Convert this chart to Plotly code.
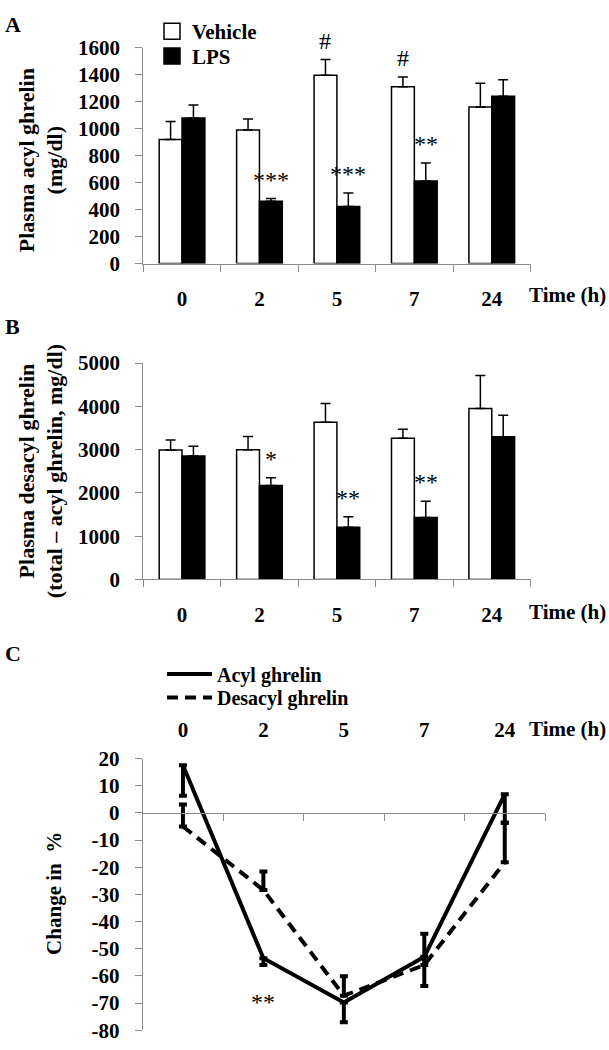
import plotly.graph_objects as go

# ---------------- data ----------------
times = ['0', '2', '5', '7', '24']

acyl_vehicle = [920, 990, 1397, 1312, 1162]
acyl_vehicle_sem = [133, 83, 116, 71, 175]
acyl_lps = [1080, 462, 424, 613, 1242]
acyl_lps_sem = [97, 20, 99, 133, 121]

desacyl_vehicle = [2990, 2997, 3630, 3261, 3953]
desacyl_vehicle_sem = [233, 309, 436, 210, 761]
desacyl_lps = [2854, 2169, 1205, 1431, 3298]
desacyl_lps_sem = [226, 180, 241, 376, 497]

change_acyl = [17.5, -53.5, -69.8, -53.0, 6.9]
change_acyl_err = [11.2, 2.5, 7.3, 10.7, 10.5]
change_desacyl = [-5.0, -28.4, -67.3, -56.0, -18.2]
change_desacyl_err = [8.1, 6.8, 7.2, 11.5, 14.6]

acyl_ticks = [0, 200, 400, 600, 800, 1000, 1200, 1400, 1600]
desacyl_ticks = [0, 1000, 2000, 3000, 4000, 5000]
change_ticks = [-80, -70, -60, -50, -40, -30, -20, -10, 0, 10, 20]
change_ticktext = ['-80', '-70', '-60', '-50', '-40', '-30', '-20', '-10', '0', '10', '20']

# significance marks: (time, series, text)
sig_a = [('5', 'vehicle', '#'), ('7', 'vehicle', '#'),
         ('2', 'lps', '***'), ('5', 'lps', '***'), ('7', 'lps', '**')]
sig_b = [('2', 'lps', '*'), ('5', 'lps', '**'), ('7', 'lps', '**')]
sig_c = [('2', 'acyl', '**')]

# ---------------- layout helpers ----------------
W, H = 609, 1050
def px_x(x):
    return x / W
def px_y(y):
    return 1 - y / H

FONT = 'Liberation Serif'
GRAY = '#8c8c8c'
BARGAP = 0.41
TICK_FONT = dict(family=FONT, size=21, color='black', weight='bold')

fig = go.Figure()
zeros = [0] * len(times)


def add_bars(xa, ya, veh, veh_err, lps, lps_err):
    fig.add_trace(go.Bar(
        x=times, y=veh, xaxis=xa, yaxis=ya, name='Vehicle', showlegend=False,
        marker=dict(color='white', line=dict(color='black', width=1.5)),
        error_y=dict(type='data', symmetric=False, array=veh_err, arrayminus=zeros,
                     color='black', thickness=1.5, width=5)))
    fig.add_trace(go.Bar(
        x=times, y=lps, xaxis=xa, yaxis=ya, name='LPS', showlegend=False,
        marker=dict(color='black', line=dict(color='black', width=1.5)),
        error_y=dict(type='data', symmetric=False, array=lps_err, arrayminus=zeros,
                     color='black', thickness=1.5, width=5)))


add_bars('x', 'y', acyl_vehicle, acyl_vehicle_sem, acyl_lps, acyl_lps_sem)
add_bars('x2', 'y2', desacyl_vehicle, desacyl_vehicle_sem, desacyl_lps, desacyl_lps_sem)

# legend entries for panel A (one legend per entry for exact placement)
fig.add_trace(go.Scatter(x=[None], y=[None], xaxis='x', yaxis='y', mode='markers', name='Vehicle',
                         marker=dict(symbol='square', size=16, color='white',
                                     line=dict(color='black', width=1.5)), legend='legend'))
fig.add_trace(go.Scatter(x=[None], y=[None], xaxis='x', yaxis='y', mode='markers', name='LPS',
                         marker=dict(symbol='square', size=16, color='black',
                                     line=dict(color='black', width=1.5)), legend='legend3'))

# panel C lines
fig.add_trace(go.Scatter(
    x=times, y=change_acyl, xaxis='x3', yaxis='y3', mode='lines', name='Acyl ghrelin',
    line=dict(color='black', width=4), legend='legend2',
    error_y=dict(type='data', symmetric=False, array=zeros, arrayminus=change_acyl_err,
                 color='black', thickness=4, width=4)))
fig.add_trace(go.Scatter(
    x=times, y=change_desacyl, xaxis='x3', yaxis='y3', mode='lines', name='Desacyl ghrelin',
    line=dict(color='black', width=4, dash='11px,7px'), legend='legend4',
    error_y=dict(type='data', symmetric=False, array=change_desacyl_err, arrayminus=zeros,
                 color='black', thickness=4, width=4)))
# helper trace that registers the zero-line axis of panel C
fig.add_trace(go.Scatter(x=[None], y=[None], xaxis='x4', yaxis='y3', showlegend=False,
                         hoverinfo='skip'))

# ---------------- axes ----------------
xa_bar = dict(type='category', range=[-0.5, len(times) - 0.5], showline=True, linecolor=GRAY,
              linewidth=1, ticks='outside', tickson='boundaries', ticklen=7, tickcolor=GRAY,
              tickfont=TICK_FONT, ticklabelstandoff=16, showgrid=False, zeroline=False)
ya_common = dict(showline=True, linecolor=GRAY, linewidth=1, ticks='outside', ticklen=7,
                 tickcolor=GRAY, tickfont=TICK_FONT, ticklabelstandoff=11,
                 showgrid=False, zeroline=False)

c_dom = [px_y(1042), px_y(764)]
c_range = [-80, 20]
zero_pos = c_dom[0] + (0 - c_range[0]) / (c_range[1] - c_range[0]) * (c_dom[1] - c_dom[0])


def legend_box(x_px, top_px, size):
    return dict(x=px_x(x_px), y=px_y(top_px), xanchor='left', yanchor='top',
                font=dict(family=FONT, size=size, color='black', weight='bold'),
                bgcolor='rgba(0,0,0,0)', itemsizing='trace', tracegroupgap=0)


fig.update_layout(
    width=W, height=H, margin=dict(l=0, r=0, t=0, b=0),
    paper_bgcolor='white', plot_bgcolor='white',
    font=dict(family=FONT, color='black'),
    barmode='group', bargap=BARGAP, bargroupgap=0,
    xaxis=dict(domain=[px_x(143.3), px_x(530.5)], anchor='y', **xa_bar),
    yaxis=dict(domain=[px_y(257.5), px_y(36.7)], anchor='x', range=[0, 1600],
               tickvals=acyl_ticks, **ya_common),
    xaxis2=dict(domain=[px_x(143.3), px_x(530.5)], anchor='y2', **xa_bar),
    yaxis2=dict(domain=[px_y(580.7), px_y(359.3)], anchor='x2', range=[0, 5000],
                tickvals=desacyl_ticks, **ya_common),
    xaxis3=dict(domain=[px_x(142.7), px_x(545)], anchor='free', position=px_y(746),
                side='top', type='category', range=[-0.5, len(times) - 0.5],
                showline=False, ticks='', tickfont=TICK_FONT,
                showgrid=False, zeroline=False),
    xaxis4=dict(overlaying='x3', anchor='free', position=zero_pos, type='linear',
                range=[-0.5, len(times) - 0.5],
                tickvals=[i - 0.5 for i in range(len(times) + 1)],
                showticklabels=False, showline=True, linecolor=GRAY, linewidth=1,
                ticks='outside', ticklen=7, tickcolor=GRAY, showgrid=False, zeroline=False),
    yaxis3=dict(domain=c_dom, anchor='x3', range=c_range, tickvals=change_ticks,
                ticktext=change_ticktext, **ya_common),
    legend=legend_box(152, -1, 21),
    legend3=legend_box(152, 24.5, 21),
    legend2=dict(legend_box(162, 657.5, 20), itemwidth=45),
    legend4=dict(legend_box(162, 681.5, 20), itemwidth=45),
    showlegend=True,
)

# ---------------- annotations ----------------
ann = []
bold = dict(family=FONT, size=22, color='black', weight='bold')
for letter, y in [('A', 12.5), ('B', 322), ('C', 656)]:
    ann.append(dict(text=letter, x=px_x(3), y=px_y(y), xref='paper', yref='paper',
                    xanchor='left', yanchor='middle', showarrow=False, font=bold))
for y in [290, 614, 734]:
    ann.append(dict(text='Time (h)', x=px_x(527), y=px_y(y), xref='paper', yref='paper',
                    xanchor='left', yanchor='middle', showarrow=False,
                    font=dict(family=FONT, size=21, color='black', weight='bold')))
ann.append(dict(text='Plasma acyl ghrelin<br>(mg/dl)', x=px_x(41), y=px_y(151.7),
                xref='paper', yref='paper', textangle=-90, xanchor='center', yanchor='middle',
                showarrow=False, font=bold))
ann.append(dict(text='Plasma desacyl ghrelin<br>(total \u2013 acyl ghrelin, mg/dl)',
                x=px_x(41), y=px_y(470), xref='paper', yref='paper', textangle=-90,
                xanchor='center', yanchor='middle', showarrow=False, font=bold))
ann.append(dict(text='Change in  %', x=px_x(54.5), y=px_y(902), xref='paper', yref='paper',
                textangle=-90, xanchor='center', yanchor='middle', showarrow=False,
                font=dict(family=FONT, size=21, color='black', weight='bold')))

offset = (1 - BARGAP) / 4
star_font = dict(family=FONT, size=24, color='black')


def sig_annotations(marks, xa, ya, veh, veh_err, lps, lps_err):
    for t, series, txt in marks:
        i = times.index(t)
        if series == 'vehicle':
            xv, top = i - offset, veh[i] + veh_err[i]
        else:
            xv, top = i + offset, lps[i] + lps_err[i]
        ann.append(dict(text=txt, x=xv, y=top, xref=xa, yref=ya, xanchor='center',
                        yanchor='bottom', yshift=4, showarrow=False, font=star_font))


sig_annotations(sig_a, 'x', 'y', acyl_vehicle, acyl_vehicle_sem, acyl_lps, acyl_lps_sem)
sig_annotations(sig_b, 'x2', 'y2', desacyl_vehicle, desacyl_vehicle_sem, desacyl_lps, desacyl_lps_sem)
for t, series, txt in sig_c:
    i = times.index(t)
    ann.append(dict(text=txt, x=i, y=change_acyl[i] - change_acyl_err[i], xref='x3', yref='y3',
                    xanchor='center', yanchor='top', yshift=-22, showarrow=False,
                    font=star_font))

fig.update_layout(annotations=ann)
fig.write_html('out.html', config={'displayModeBar': False},
               post_script="document.body.style.margin='0px';")
